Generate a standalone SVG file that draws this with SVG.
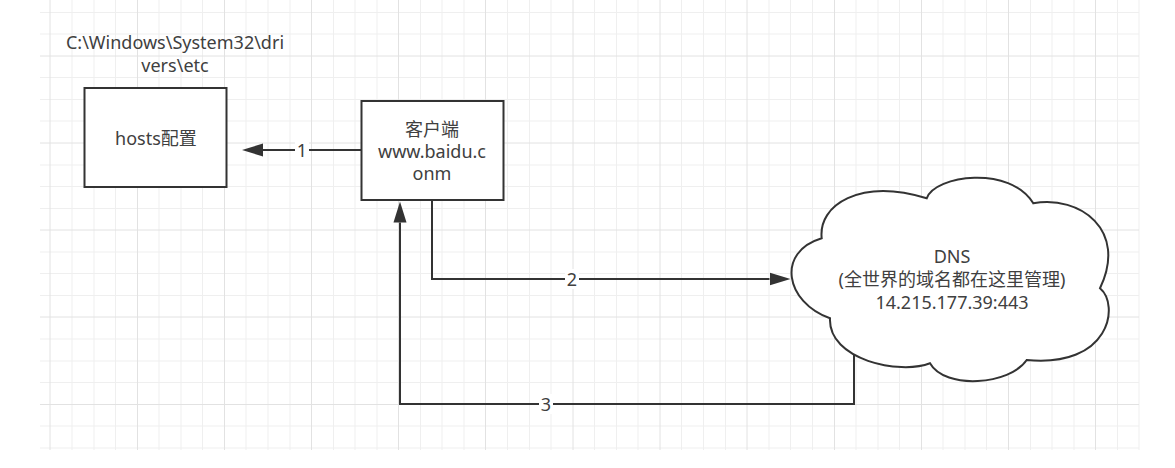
<svg xmlns="http://www.w3.org/2000/svg" width="1175" height="468" viewBox="0 0 1175 468">
<style>
.minor{stroke:#efefef;stroke-width:1;fill:none}
.major{stroke:#e2e2e2;stroke-width:1;fill:none}
.box{fill:#fff;stroke:#333;stroke-width:2}
.t{font-family:"Noto Sans","Noto Sans CJK SC",sans-serif;font-size:18px;fill:#404040;text-anchor:middle}
.edge{fill:none;stroke:#333;stroke-width:2}
.lbg{fill:#fff}
</style>
<defs>
<marker id="arr" markerUnits="userSpaceOnUse" markerWidth="22" markerHeight="14" viewBox="0 -7 22 14" refX="0" refY="0" orient="auto">
<path d="M0,-6.5 L21,0 L0,6.5 Z" fill="#333"/>
</marker>
</defs>
<rect width="1175" height="468" fill="#fff"/>
<g id="grid">
<path class="minor" d="M72,0V450M94,0V450M115.5,0V450M159,0V450M181,0V450M202.5,0V450M246,0V450M268,0V450M290,0V450M333.5,0V450M355,0V450M377,0V450M420.5,0V450M442,0V450M464,0V450M507.5,0V450M529.5,0V450M551,0V450M594.5,0V450M616.5,0V450M638,0V450M681.5,0V450M703.5,0V450M725.5,0V450M769,0V450M790.5,0V450M812.5,0V450M856,0V450M878,0V450M899.5,0V450M943,0V450M965,0V450M986.5,0V450M1030.5,0V450M1052,0V450M1074,0V450M1117.5,0V450M1139,0V450
M40,12.5H1139M40,34H1139M40,77.5H1139M40,99.5H1139M40,121H1139M40,165H1139M40,186.5H1139M40,208.5H1139M40,252H1139M40,273.5H1139M40,295.5H1139M40,339H1139M40,361H1139M40,382.5H1139M40,426H1139M40,448H1139"/>
<path class="major" d="M50,0V450M137.5,0V450M224.5,0V450M311.5,0V450M398.5,0V450M485.5,0V450M573,0V450M660,0V450M747,0V450M834.5,0V450M921.5,0V450M1008.5,0V450M1095.5,0V450
M40,56H1139M40,143H1139M40,230H1139M40,317H1139M40,404.5H1139"/>
</g>
<g id="path-label">
<text class="t" x="175" y="49">C:\Windows\System32\dri</text>
<text class="t" x="175" y="71.5">vers\etc</text>
</g>
<g id="connectors">
<path class="edge" d="M361,150 H263" marker-end="url(#arr)"/>
<path class="edge" d="M432,200 V279 H769.5" marker-end="url(#arr)"/>
<path class="edge" d="M854,351 V404 H400 V222.5" marker-end="url(#arr)"/>
<rect class="lbg" x="295" y="140" width="14" height="20"/>
<text class="t" x="302" y="156.5">1</text>
<rect class="lbg" x="565" y="269" width="14" height="20"/>
<text class="t" x="572" y="285.5">2</text>
<rect class="lbg" x="539" y="394" width="14" height="20"/>
<text class="t" x="546" y="410.5">3</text>
</g>
<g id="hosts">
<rect class="box" x="84.5" y="88" width="142" height="99"/>
<text class="t" x="156" y="145">hosts配置</text>
</g>
<g id="client">
<rect class="box" x="361.5" y="101" width="142" height="99"/>
<text class="t" x="432" y="136">客户端</text>
<text class="t" x="432" y="158">www.baidu.c</text>
<text class="t" x="432" y="180">onm</text>
</g>
<g id="dns">
<path class="box" d="M821.7,238.3 C818,205 860,178 926.7,198.3 C935,175 1010,165 1033.3,203.3 C1080,195 1128,230 1100,288.3 C1120,305 1110,368 1026.7,360 C1010,385 945,390 930,363.3 C900,375 828,360 830,318.3 C785,302 776,252 821.7,238.3 Z"/>
<text class="t" x="952" y="263">DNS</text>
<text class="t" x="952" y="286">(全世界的域名都在这里管理)</text>
<text class="t" x="952" y="308.5">14.215.177.39:443</text>
</g>
</svg>
